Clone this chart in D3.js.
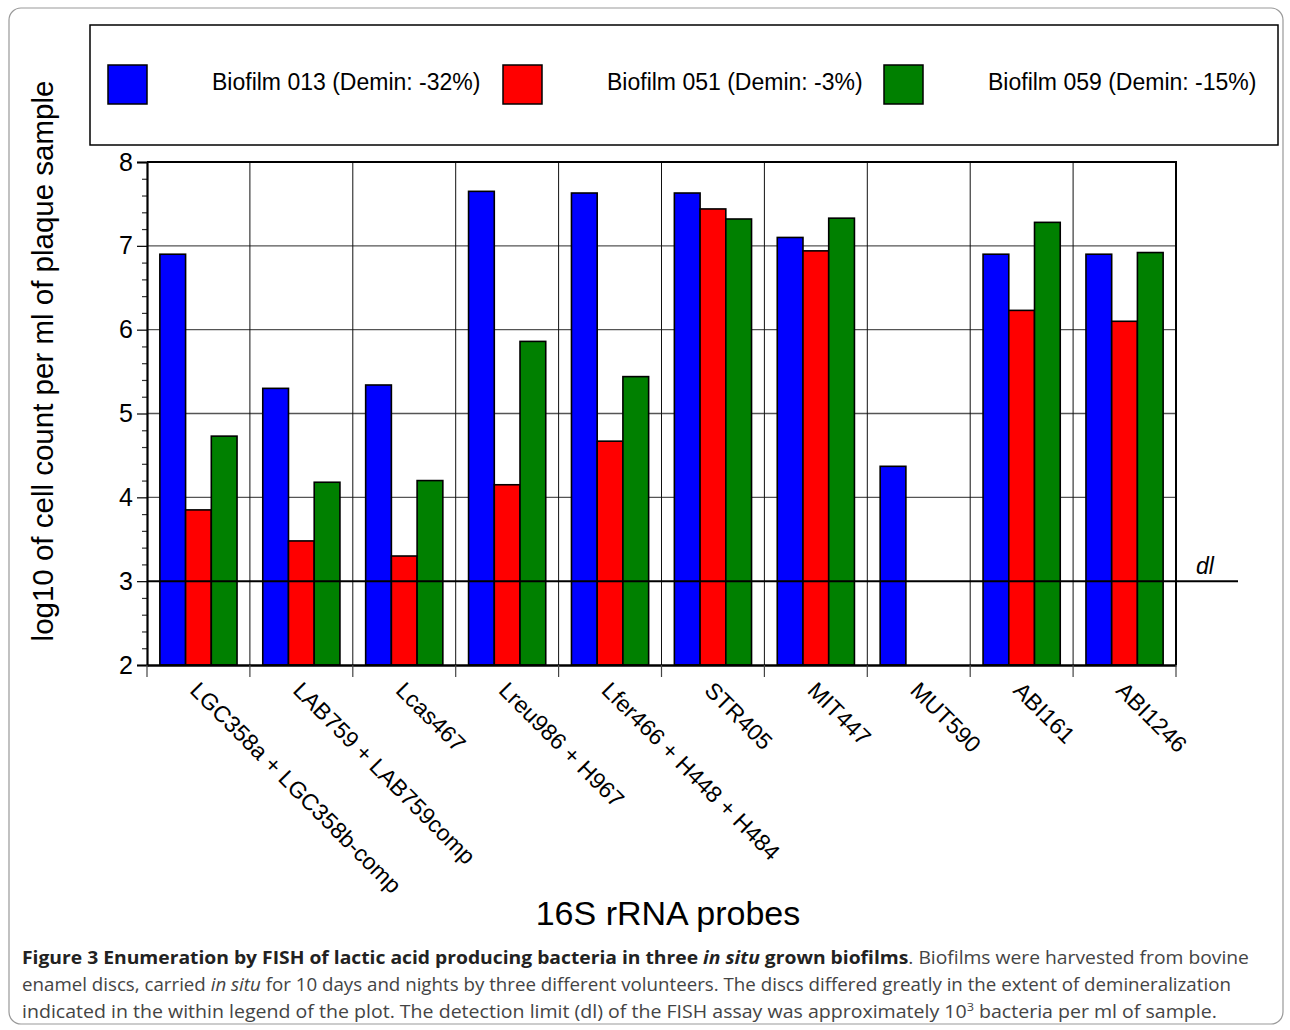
<!DOCTYPE html>
<html>
<head>
<meta charset="utf-8">
<script src="https://cdn.jsdelivr.net/npm/d3@7"></script>
<style>
  body { margin: 0; background: #fff; }
  svg { display: block; }
</style>
</head>
<body>
<div id="chart"></div>
<script>
const probes = [
  "LGC358a + LGC358b-comp",
  "LAB759 + LAB759comp",
  "Lcas467",
  "Lreu986 + H967",
  "Lfer466 + H448 + H484",
  "STR405",
  "MIT447",
  "MUT590",
  "ABI161",
  "ABI1246"
];
const seriesNames = [
  "Biofilm 013 (Demin: -32%)",
  "Biofilm 051 (Demin: -3%)",
  "Biofilm 059 (Demin: -15%)"
];
// log10 cell counts; null = below detection, no bar drawn
const biofilm013 = [6.90, 5.30, 5.34, 7.65, 7.63, 7.63, 7.10, 4.37, 6.90, 6.90];
const biofilm051 = [3.85, 3.48, 3.30, 4.15, 4.67, 7.44, 6.94, null, 6.23, 6.10];
const biofilm059 = [4.73, 4.18, 4.20, 5.86, 5.44, 7.32, 7.33, null, 7.28, 6.92];
const yTicks = [2, 3, 4, 5, 6, 7, 8];
const detectionLimit = 3;

const colors = ["#0000ff", "#ff0000", "#008000"];
const W = 1290, H = 1030;
const plot = { left: 147, right: 1176, top: 162, bottom: 665 };
const font = "Liberation Sans, Arial, Helvetica, sans-serif";

const svg = d3.select("#chart").append("svg")
  .attr("width", W).attr("height", H);

// outer figure border
svg.append("rect")
  .attr("x", 9).attr("y", 8)
  .attr("width", 1274).attr("height", 1016)
  .attr("rx", 12)
  .attr("fill", "none")
  .attr("stroke", "#999").attr("stroke-width", 1.2);

const x = d3.scaleBand().domain(probes).range([plot.left, plot.right]).padding(0);
const inner = d3.scaleBand().domain(d3.range(3))
  .range([x.bandwidth() / 8, x.bandwidth() * 7 / 8]);
const y = d3.scaleLinear().domain([2, 8]).range([plot.bottom, plot.top]);

const rows = probes.map((p, i) => ({
  probe: p,
  values: [biofilm013[i], biofilm051[i], biofilm059[i]]
}));

// grid
const grid = svg.append("g");
grid.selectAll(".hgrid")
  .data(yTicks.filter(t => t > 2 && t < 8 && t !== detectionLimit))
  .enter().append("line")
  .attr("x1", plot.left).attr("x2", plot.right)
  .attr("y1", d => y(d)).attr("y2", d => y(d))
  .attr("stroke", "#555").attr("stroke-width", 1.4);
grid.selectAll(".vgrid")
  .data(probes.slice(1))
  .enter().append("line")
  .attr("x1", d => x(d)).attr("x2", d => x(d))
  .attr("y1", plot.top).attr("y2", plot.bottom)
  .attr("stroke", "#111").attr("stroke-width", 1);

// bars
svg.append("g")
  .selectAll("g")
  .data(rows)
  .enter().append("g")
  .attr("transform", d => `translate(${x(d.probe)},0)`)
  .selectAll("rect")
  .data(d => d.values.map((v, k) => ({ v, k })).filter(e => e.v != null))
  .enter().append("rect")
  .attr("x", d => inner(d.k))
  .attr("width", inner.bandwidth())
  .attr("y", d => y(d.v))
  .attr("height", d => y(2) - y(d.v))
  .attr("fill", d => colors[d.k])
  .attr("stroke", "#000").attr("stroke-width", 1.6);

// detection limit line
svg.append("line")
  .attr("x1", plot.left).attr("x2", 1238)
  .attr("y1", y(detectionLimit)).attr("y2", y(detectionLimit))
  .attr("stroke", "#000").attr("stroke-width", 2);
svg.append("text")
  .attr("x", 1196).attr("y", y(detectionLimit) - 7)
  .attr("font-family", font).attr("font-style", "italic")
  .attr("font-size", 23)
  .text("dl");

// frame top / right
svg.append("path")
  .attr("d", `M${plot.left},${plot.top}H${plot.right}V${plot.bottom}`)
  .attr("fill", "none").attr("stroke", "#000").attr("stroke-width", 2);

// y axis
const minorTicks = d3.range(2, 8.001, 0.2).filter(t => Math.abs(t - Math.round(t)) > 0.01);
const yAxisMinor = svg.append("g")
  .attr("transform", `translate(${plot.left},0)`)
  .call(d3.axisLeft(y).tickValues(minorTicks).tickSize(5).tickFormat(""));
yAxisMinor.select(".domain").remove();
yAxisMinor.selectAll("line").attr("stroke", "#333").attr("stroke-width", 1.2);

const yAxis = svg.append("g")
  .attr("transform", `translate(${plot.left},0)`)
  .call(d3.axisLeft(y).tickValues(yTicks).tickSize(10).tickPadding(4).tickFormat(d3.format("d")));
yAxis.select(".domain").attr("stroke-width", 2.2);
yAxis.selectAll(".tick line").attr("stroke-width", 1.2);
yAxis.selectAll("text")
  .attr("font-family", font).attr("font-size", 25).attr("fill", "#000");

// x axis
const xAxis = svg.append("g")
  .attr("transform", `translate(0,${plot.bottom})`)
  .call(d3.axisBottom(x).tickSize(0).tickFormat(""));
xAxis.select(".domain").attr("stroke-width", 2.4);
xAxis.selectAll(".tick").remove();

svg.append("g")
  .selectAll("line")
  .data(probes.concat(["end"]))
  .enter().append("line")
  .attr("x1", (d, i) => i < probes.length ? x(d) : plot.right)
  .attr("x2", (d, i) => i < probes.length ? x(d) : plot.right)
  .attr("y1", plot.bottom).attr("y2", plot.bottom + 12)
  .attr("stroke", "#444").attr("stroke-width", 1.2);

svg.append("g")
  .selectAll("text")
  .data(probes)
  .enter().append("text")
  .attr("transform", d => `translate(${x(d) + x.bandwidth() / 2 + 2},${plot.bottom + 15}) rotate(45)`)
  .attr("dy", "0.72em")
  .attr("font-family", font).attr("font-size", 23)
  .text(d => d);

// axis titles
svg.append("text")
  .attr("transform", `translate(53,361) rotate(-90)`)
  .attr("text-anchor", "middle")
  .attr("font-family", font).attr("font-size", 29.5)
  .text("log10 of cell count per ml of plaque sample");

svg.append("text")
  .attr("x", 668).attr("y", 925)
  .attr("text-anchor", "middle")
  .attr("font-family", font).attr("font-size", 34)
  .text("16S rRNA probes");

// legend
const legend = svg.append("g");
legend.append("rect")
  .attr("x", 90).attr("y", 25).attr("width", 1188).attr("height", 120)
  .attr("fill", "#fff").attr("stroke", "#000").attr("stroke-width", 1.5);
const legendX = [108, 503, 884];
seriesNames.forEach((name, i) => {
  legend.append("rect")
    .attr("x", legendX[i]).attr("y", 65).attr("width", 39).attr("height", 39)
    .attr("fill", colors[i]).attr("stroke", "#000").attr("stroke-width", 1.5);
  legend.append("text")
    .attr("x", legendX[i] + 104).attr("y", 90)
    .attr("font-family", font).attr("font-size", 23)
    .text(name);
});

// caption, each line fitted to the width it has in the figure
const capFont = "'Open Sans', sans-serif";
const caption = svg.append("g").attr("font-family", capFont).attr("font-size", 18);

function fitText(sel, x0, baseline, width) {
  const w = sel.node().getComputedTextLength();
  sel.attr("transform", `translate(${x0},${baseline}) scale(${width / w},1)`);
}

const line1 = caption.append("text").attr("fill", "#444");
line1.append("tspan").attr("font-weight", "bold").attr("fill", "#222")
  .text("Figure 3 Enumeration by FISH of lactic acid producing bacteria in three ");
line1.append("tspan").attr("font-weight", "bold").attr("font-style", "italic").attr("fill", "#222")
  .text("in situ");
line1.append("tspan").attr("font-weight", "bold").attr("fill", "#222")
  .text(" grown biofilms");
line1.append("tspan").text(". Biofilms were harvested from bovine");
fitText(line1, 22, 964, 1228);

const line2 = caption.append("text").attr("fill", "#444");
line2.append("tspan").text("enamel discs, carried ");
line2.append("tspan").attr("font-style", "italic").text("in situ");
line2.append("tspan").text(" for 10 days and nights by three different volunteers. The discs differed greatly in the extent of demineralization");
fitText(line2, 22, 991, 1209);

const line3 = caption.append("text").attr("fill", "#444");
line3.append("tspan").text("indicated in the within legend of the plot. The detection limit (dl) of the FISH assay was approximately 10");
line3.append("tspan").attr("font-size", "0.65em").attr("dy", -7).text("3");
line3.append("tspan").attr("dy", 7).text(" bacteria per ml of sample.");
fitText(line3, 22, 1018, 1196);
</script>
</body>
</html>
